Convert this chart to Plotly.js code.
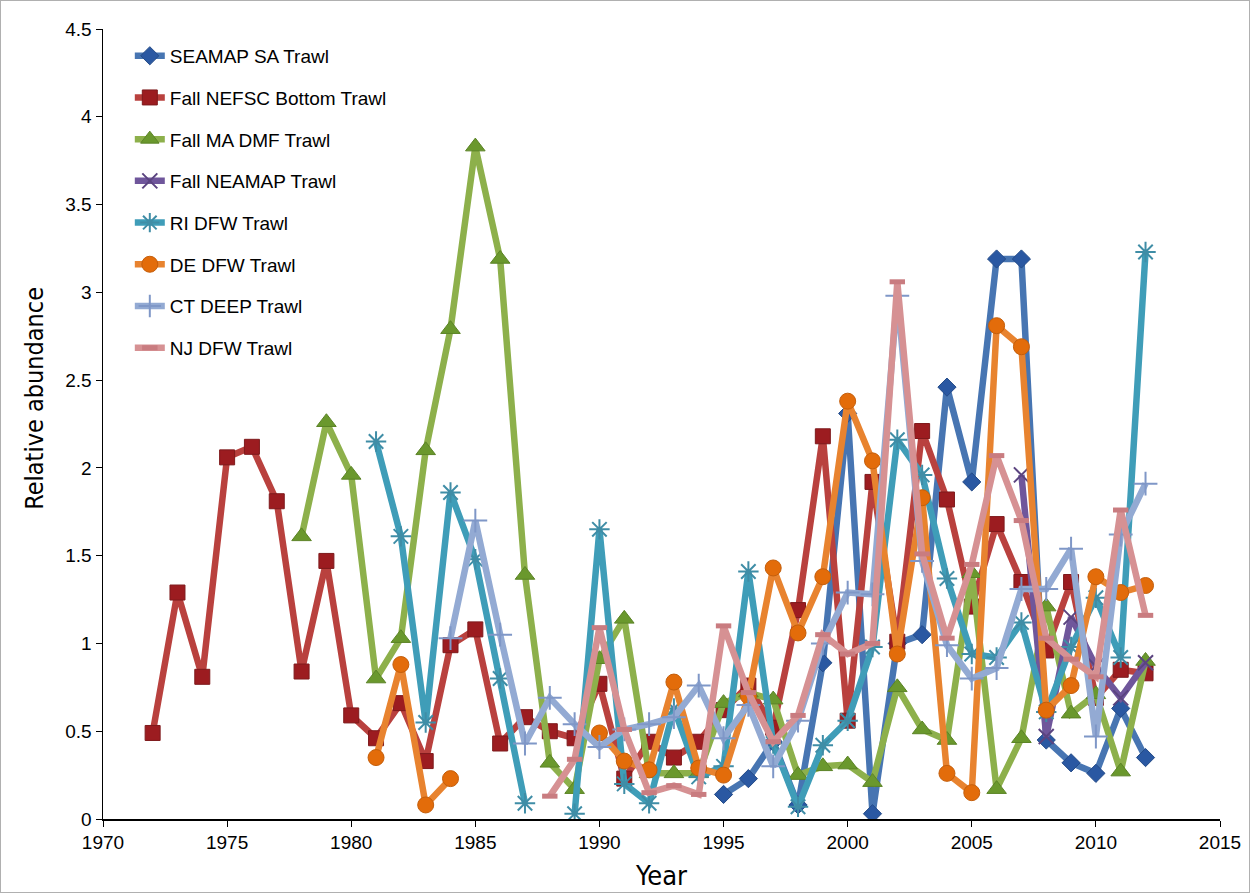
<!DOCTYPE html>
<html>
<head>
<meta charset="utf-8">
<script src="https://cdn.plot.ly/plotly-3.0.1.min.js"></script>
<style>
  html, body { margin: 0; padding: 0; background: #fff; }
  #wrap { position: relative; width: 1250px; height: 893px; }
  #chart { width: 1250px; height: 893px; }
  #frame { position: absolute; left: 0; top: 0; width: 1248px; height: 891px; border: 1px solid #b0b0b0; pointer-events: none; }
</style>
</head>
<body>
<div id="wrap"><div id="chart"></div><div id="frame"></div></div>
<script>
// Years 1972..2012
const years = [1972,1973,1974,1975,1976,1977,1978,1979,1980,1981,1982,1983,1984,1985,1986,1987,1988,1989,1990,1991,1992,1993,1994,1995,1996,1997,1998,1999,2000,2001,2002,2003,2004,2005,2006,2007,2008,2009,2010,2011,2012];

const seamapSA = [null,null,null,null,null,null,null,null,null,null,null,null,null,null,null,null,null,null,null,null,null,null,null,
  0.14,0.23,0.44,0.08,0.89,2.31,0.03,1.00,1.05,2.46,1.92,3.19,3.19,0.45,0.32,0.26,0.63,0.35];

const fallNEFSC = [0.49,1.29,0.81,2.06,2.12,1.81,0.84,1.47,0.59,0.46,0.66,0.33,0.99,1.08,0.43,0.58,0.50,0.46,0.77,0.23,0.44,0.35,0.44,
  0.62,0.76,0.52,1.19,2.18,0.56,1.92,1.01,2.21,1.82,1.21,1.68,1.35,0.96,1.35,0.69,0.85,0.83];

const fallMADMF = [null,null,null,null,null,null,1.61,2.26,1.96,0.80,1.03,2.10,2.79,3.83,3.19,1.39,0.32,0.17,0.91,1.14,0.26,0.26,0.26,
  0.66,0.72,0.68,0.25,0.30,0.31,0.21,0.75,0.51,0.45,1.40,0.17,0.46,1.21,0.60,0.71,0.27,0.90];

const fallNEAMAP = [null,null,null,null,null,null,null,null,null,null,null,null,null,null,null,null,null,null,null,null,null,null,null,
  null,null,null,null,null,null,null,null,null,null,null,null,1.96,0.47,1.15,0.87,0.69,0.89];

const riDFW = [null,null,null,null,null,null,null,null,null,2.15,1.61,0.55,1.86,1.48,0.80,0.09,null,0.03,1.65,0.20,0.09,0.63,0.24,
  0.30,1.41,0.43,0.07,0.42,0.56,0.98,2.16,1.96,1.37,0.94,0.92,1.12,0.61,0.98,1.26,0.92,3.23];

const deDFW = [null,null,null,null,null,null,null,null,null,0.35,0.88,0.08,0.23,null,null,null,null,null,0.49,0.33,0.28,0.78,0.29,
  0.25,0.70,1.43,1.06,1.38,2.38,2.04,0.94,1.83,0.26,0.15,2.81,2.69,0.62,0.76,1.38,1.29,1.33];

const ctDEEP = [null,null,null,null,null,null,null,null,null,null,null,null,1.03,1.70,1.05,0.43,0.69,0.54,0.41,0.51,0.54,0.58,0.76,
  0.46,0.65,0.30,0.56,1.00,1.29,1.28,2.98,1.47,0.99,0.80,0.86,1.31,1.31,1.54,0.47,1.62,1.91];

const njDFW = [null,null,null,null,null,null,null,null,null,null,null,null,null,null,null,null,0.13,0.34,1.09,0.51,0.15,0.19,0.14,
  1.10,0.72,0.44,0.59,1.05,0.94,1.00,3.06,1.51,1.03,1.45,2.07,1.70,1.03,0.91,0.81,1.76,1.16];

const seriesNames = ['SEAMAP SA Trawl','Fall NEFSC Bottom Trawl','Fall MA DMF Trawl','Fall NEAMAP Trawl','RI DFW Trawl','DE DFW Trawl','CT DEEP Trawl','NJ DFW Trawl'];
const seriesValues = [seamapSA, fallNEFSC, fallMADMF, fallNEAMAP, riDFW, deDFW, ctDEEP, njDFW];

const styles = [
  {line:'#4775B2', mfill:'#2A58A2', mline:'#244b88', symbol:'diamond', size:14, mlw:1},
  {line:'#B9413E', mfill:'#9C1C20', mline:'#7e1a1c', symbol:'square', size:15, mlw:1},
  {line:'#8DB04B', mfill:'#6A982D', mline:'#5b8326', symbol:'triangle-up', size:17, mlw:1},
  {line:'#6F569B', mfill:'#5B4480', mline:'#5B4480', symbol:'x-thin-open', size:15, mlw:2},
  {line:'#3F9DB8', mfill:'#3F8DA6', mline:'#5e8aa0', symbol:'asterisk-open', size:17, mlw:2},
  {line:'#E8832F', mfill:'#E36C0A', mline:'#c45e0b', symbol:'circle', size:16, mlw:1},
  {line:'#93AAD3', mfill:'#7F97C7', mline:'#7F97C7', symbol:'cross-thin-open', size:17, mlw:2},
  {line:'#D69193', mfill:'#C97C80', mline:'#C47579', symbol:'line-ew-open', size:11, mlw:5}
];

const traces = seriesNames.map((name, i) => ({
  type: 'scatter',
  mode: 'lines+markers',
  name: name,
  legendgroup: 'g' + i,
  x: years,
  y: seriesValues[i],
  connectgaps: false,
  line: {color: styles[i].line, width: 6.5},
  marker: {
    symbol: styles[i].symbol,
    size: styles[i].size,
    color: styles[i].mfill,
    line: {color: styles[i].mline, width: styles[i].mlw}
  }
}));

const layout = {
  width: 1250,
  height: 893,
  margin: {l: 103, r: 30, t: 29, b: 74},
  paper_bgcolor: '#ffffff',
  plot_bgcolor: '#ffffff',
  font: {family: 'Liberation Sans, Arial, sans-serif', color: '#000'},
  showlegend: true,
  legend: {
    x: 0.024, y: 0.99, xanchor: 'left', yanchor: 'top',
    bgcolor: 'rgba(0,0,0,0)',
    font: {family: 'Liberation Sans, Arial, sans-serif', size: 19, color: '#000'},
    traceorder: 'grouped',
    tracegroupgap: 14,
    itemwidth: 30
  },
  xaxis: {
    range: [1970, 2015],
    dtick: 5,
    tick0: 1970,
    showgrid: false,
    zeroline: false,
    showline: true,
    linecolor: '#000',
    linewidth: 1.5,
    ticks: 'outside',
    ticklen: 6,
    tickcolor: '#000',
    tickfont: {family: 'Liberation Sans, Arial, sans-serif', size: 19, color: '#000'},
    title: {text: 'Year', font: {family: 'Liberation Sans Narrow, DejaVu Sans Condensed, sans-serif', size: 27, color: '#000'}, standoff: 14}
  },
  yaxis: {
    range: [0, 4.5],
    dtick: 0.5,
    tick0: 0,
    showgrid: false,
    zeroline: false,
    showline: true,
    linecolor: '#000',
    linewidth: 1.5,
    ticks: 'outside',
    ticklen: 6,
    tickcolor: '#000',
    tickfont: {family: 'Liberation Sans, Arial, sans-serif', size: 19, color: '#000'}
  },
  annotations: [{
    text: 'Relative abundance',
    xref: 'paper', yref: 'paper',
    x: -0.061, y: 0.533,
    xanchor: 'center', yanchor: 'middle',
    textangle: -90,
    showarrow: false,
    font: {family: 'Liberation Sans Narrow, DejaVu Sans Condensed, sans-serif', size: 25, color: '#000'}
  }]
};

Plotly.newPlot('chart', traces, layout, {displayModeBar: false, staticPlot: true});
</script>
</body>
</html>
